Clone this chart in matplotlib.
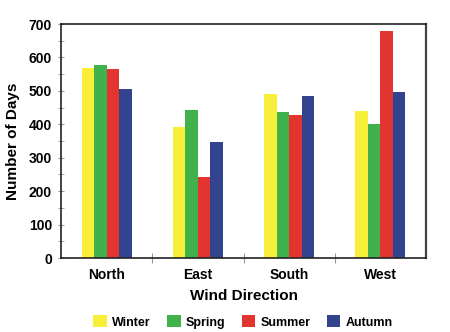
import numpy as np
import matplotlib.pyplot as plt
from matplotlib.patches import Patch
from matplotlib.ticker import MultipleLocator

plt.rcParams['font.family'] = ['Liberation Sans', 'DejaVu Sans']
plt.rcParams['font.weight'] = 'bold'

# Days per wind direction for each season
directions = ["North", "East", "South", "West"]
seasons = ["Winter", "Spring", "Summer", "Autumn"]
winter = [568, 391, 490, 440]
spring = [576, 443, 436, 400]
summer = [566, 241, 428, 678]
autumn = [506, 346, 484, 496]
colors = ["#f7ef3a", "#41b24b", "#e3352f", "#33448f"]

fig = plt.figure(figsize=(4.5, 3.32), dpi=100)
ax = fig.add_axes([61 / 450, 1 - 258 / 332, 365 / 450, 234 / 332])

x = np.arange(len(directions)) + 0.5
w = 0.137
for i, vals in enumerate([winter, spring, summer, autumn]):
    ax.bar(x + (i - 1.5) * w, vals, width=w, color=colors[i], linewidth=0)

ax.set_xlim(0, 4)
ax.set_ylim(0, 700)
ax.yaxis.set_major_locator(MultipleLocator(100))
ax.yaxis.set_minor_locator(MultipleLocator(50))
ax.set_xticks([1, 2, 3])
ax.set_xticks(x, minor=True)
ax.set_xticklabels(directions, minor=True, fontsize=10, fontweight='bold')
ax.tick_params(axis='x', which='minor', length=0, pad=7)
ax.tick_params(axis='x', which='major', direction='inout', length=7, color='#999999', labelbottom=False)
ax.tick_params(axis='y', which='both', direction='inout', length=5, color='#999999', labelsize=10, pad=4)
for lab in ax.get_yticklabels():
    lab.set_fontweight('bold')

for s in ['left', 'bottom', 'top']:
    ax.spines[s].set_linewidth(1.2)
    ax.spines[s].set_color('#222222')
ax.spines['right'].set_linewidth(1.6)
ax.spines['right'].set_color('#444444')

ax.set_ylabel("Number of Days", fontsize=11, fontweight='bold', labelpad=6)
ax.set_xlabel("Wind Direction", fontsize=11, fontweight='bold', labelpad=5)

handles = [Patch(facecolor=c, edgecolor='none') for c in colors]
fig.legend(handles, seasons, loc='center', bbox_to_anchor=(0.54, 1 - 322 / 332),
           ncol=4, frameon=False, handlelength=1.1, handleheight=1.1,
           columnspacing=1.3, handletextpad=0.4, prop={'weight': 'bold', 'size': 9})

fig.savefig("out.png", dpi=100)
